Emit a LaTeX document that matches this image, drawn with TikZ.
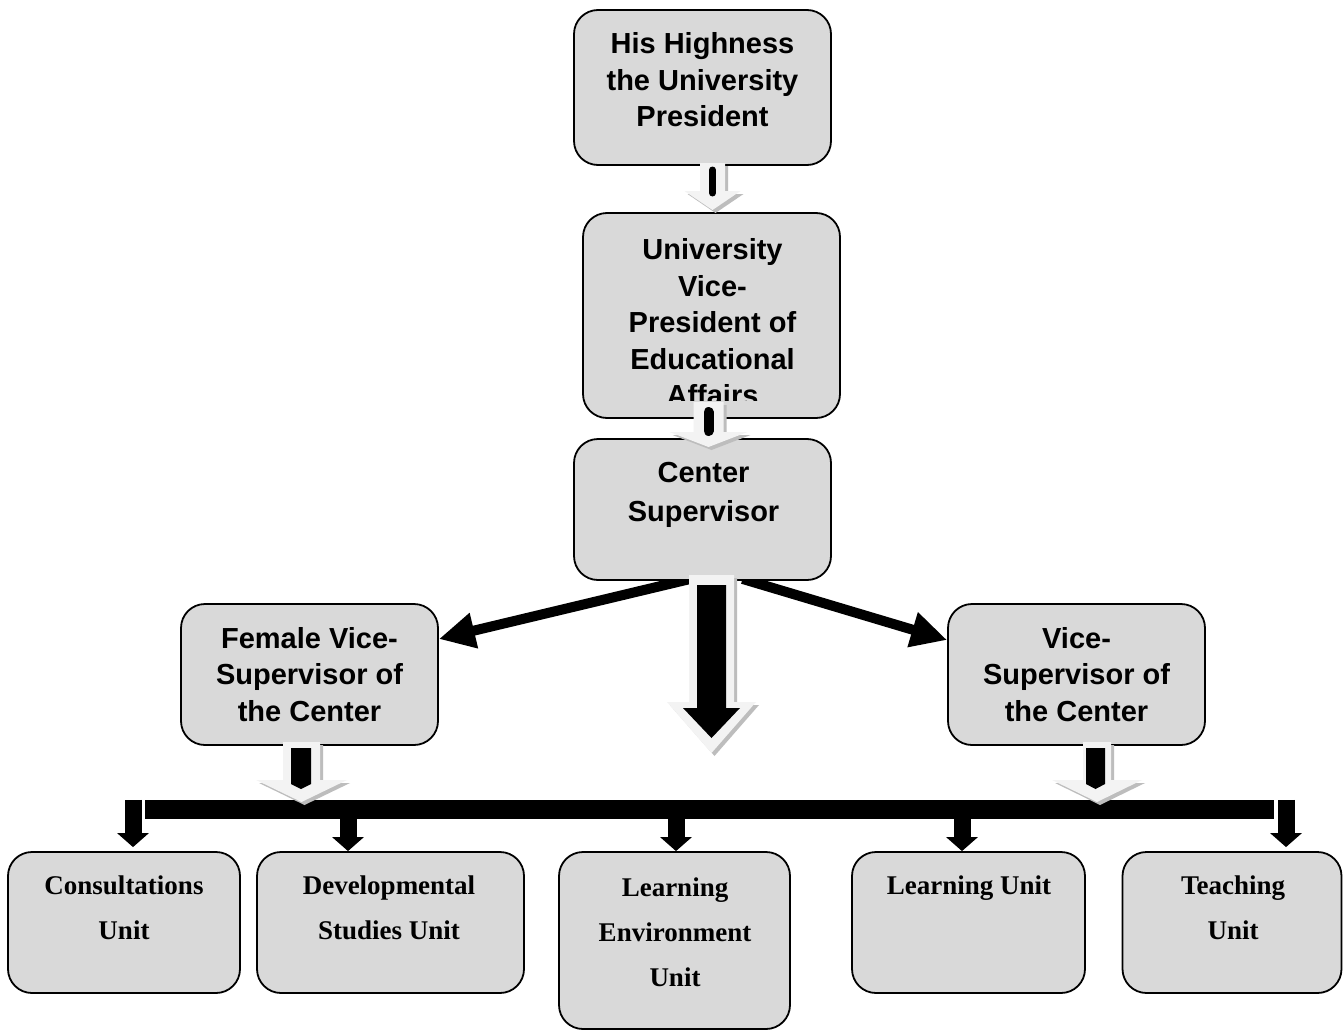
\documentclass[tikz,border=0pt]{standalone}
\usepackage{fontspec}
\setmainfont{Liberation Serif}
\setsansfont{Liberation Sans}
\usetikzlibrary{arrows.meta}
\pgfdeclarelayer{background}
\pgfsetlayers{background,main}
\definecolor{boxgray}{HTML}{D9D9D9}
\definecolor{arrlight}{HTML}{F3F3F3}
\definecolor{arrshadow}{HTML}{BDBDBD}
\newcommand\sst{\rule[-7.85pt]{0pt}{36.5pt}}
\newcommand\cst{\rule[-8.6pt]{0pt}{38pt}}
\newcommand\rst{\rule[-13.55pt]{0pt}{45pt}}
% #1 style, #2 cx, #3 top, #4 shaft half width, #5 neck y, #6 head half width, #7 tip y
\newcommand\dnshape[7]{%
  \fill[#1] (#2-#4,#3) -- (#2+#4,#3) -- (#2+#4,#5) -- (#2+#6,#5) -- (#2,#7)
    -- (#2-#6,#5) -- (#2-#4,#5) -- cycle;}
\newcommand\blockarrow[6]{%
  \dnshape{arrshadow,shift={(3,3)}}{#1}{#2}{#3}{#4}{#5}{#6}%
  \dnshape{arrlight}{#1}{#2}{#3}{#4}{#5}{#6}}
\begin{document}
\begin{tikzpicture}[x=1pt,y=-1pt,
  box/.style={draw=black, line width=1.8pt, fill=boxgray, rounded corners=24pt, inner sep=0pt},
  stxt/.style={font=\sffamily\bfseries\fontsize{29}{36.5}\selectfont, align=center, inner sep=0pt},
  rtxt/.style={font=\rmfamily\bfseries\fontsize{27}{45}\selectfont, align=center, inner sep=0pt},
  diag/.style={line width=10pt, -{Triangle[length=36pt,width=34pt]}},
  drop/.style={line width=17pt, -{Triangle[length=14pt,width=31pt]}}]
\useasboundingbox (0,0) rectangle (1343,1030);

% boxes
\node[box, minimum width=257pt, minimum height=155pt] (top) at (702.5,87.5) {};
\node[box, minimum width=257pt, minimum height=205pt] (vp)  at (711.5,315.5) {};
\node[box, minimum width=257pt, minimum height=141pt] (cs)  at (702.5,509.5) {};
\node[box, minimum width=257pt, minimum height=141pt] (fv)  at (309.5,674.5) {};
\node[box, minimum width=257pt, minimum height=141pt] (vs)  at (1076.5,674.5) {};
\node[box, minimum width=232pt, minimum height=141pt] (cu)  at (124,922.5) {};
\node[box, minimum width=267pt, minimum height=141pt] (ds)  at (390.5,922.5) {};
\node[box, minimum width=231pt, minimum height=177pt] (le)  at (674.5,940.5) {};
\node[box, minimum width=233pt, minimum height=141pt] (lu)  at (968.5,922.5) {};
\node[box, minimum width=219pt, minimum height=141pt] (tu)  at (1232,922.5) {};

% background and diagonal arrows (under the center box)
\begin{pgfonlayer}{background}
\fill[white] (0,0) rectangle (1343,1030);
\draw[diag] ([xshift=-12pt,yshift=2pt]cs.south) -- ([yshift=35.5pt]fv.east);
\draw[diag] ([xshift=40pt,yshift=2pt]cs.south) -- ([yshift=34.5pt]vs.west);
\end{pgfonlayer}

% horizontal bar and drops
\node[fill=black, minimum width=1129pt, minimum height=19pt, inner sep=0pt] (bar) at (709.5,809.5) {};
\coordinate (d1) at ([xshift=9pt,yshift=4pt]cu.north);
\coordinate (d2) at ([xshift=-42.5pt]ds.north);
\coordinate (d3) at ([xshift=1.5pt]le.north);
\coordinate (d4) at ([xshift=-6.5pt]lu.north);
\coordinate (d5) at ([xshift=54pt,yshift=4pt]tu.north);
\draw[drop] (d1 |- bar.north) -- (d1);
\draw[drop] (d2 |- bar.south) -- (d2);
\draw[drop] (d3 |- bar.south) -- (d3);
\draw[drop] (d4 |- bar.south) -- (d4);
\draw[drop] (d5 |- bar.north) -- (d5);

% block arrows
\blockarrow{712.5}{163}{12.5}{191}{28}{210}
\draw[line width=7pt, line cap=round] (712.5,170) -- (712.5,193);

% text (VP text is clipped)
\node[stxt] (ttop) at (702.5,80) {\sst His Highness\\\sst the University\\\sst President};
\begin{scope}
  \clip (583,213) rectangle (840,400.5);
  \node[stxt] (tvp) at (712.5,322.5) {\sst University\\\sst Vice-\\\sst President of\\\sst Educational\\\sst Affairs};
\end{scope}
\node[stxt] (tcs) at (703.5,492) {\cst Center\\\cst Supervisor};
\node[stxt] (tfv) at (309.5,674.5) {\sst Female Vice-\\\sst Supervisor of\\\sst the Center};
\node[stxt] (tvs) at (1076.5,674.5) {\sst Vice-\\\sst Supervisor of\\\sst the Center};

\blockarrow{708.5}{402}{15}{432}{39}{447}
\draw[line width=10pt, line cap=round] (708.5,412) -- (708.5,431);

\blockarrow{711.5}{575}{22.5}{702}{44.5}{753}
\dnshape{black}{711.5}{585}{14.5}{708}{28.5}{738}

\blockarrow{301.5}{742}{18.5}{780}{45.5}{802}
\fill[black] (291,748) -- (311,748) -- (311,784) -- (301,789) -- (291,784) -- cycle;
\blockarrow{1097}{742}{14}{780}{45}{802}
\fill[black] (1086,748) -- (1105,748) -- (1105,784) -- (1095.5,789) -- (1086,784) -- cycle;

\node[rtxt] (tcu) at (124,908.5) {\rst Consultations\\\rst Unit};
\node[rtxt] (tds) at (389,908.5) {\rst Developmental\\\rst Studies Unit};
\node[rtxt] (tle) at (675,932.5) {\rst Learning\\\rst Environment\\\rst Unit};
\node[rtxt] (tlu) at (969,886) {\rst Learning Unit};
\node[rtxt] (ttu) at (1233,908.5) {\rst Teaching\\\rst Unit};
\end{tikzpicture}
\end{document}
